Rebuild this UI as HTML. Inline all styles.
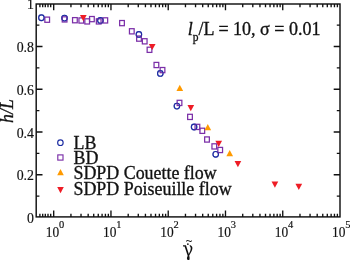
<!DOCTYPE html>
<html lang="en"><head><meta charset="utf-8"><title>h/L vs shear rate</title>
<style>
html,body{margin:0;padding:0;background:#fff;}
body{width:350px;height:260px;overflow:hidden;}
svg{display:block;will-change:transform;opacity:0.999;}
text{font-family:"Liberation Serif","DejaVu Serif",serif;fill:#111;stroke:#111;stroke-width:0.32px;}
.it{font-style:italic;}
.tk text,text.tk{stroke-width:0.18px;}
</style></head><body>
<svg width="350" height="260" viewBox="0 0 350 260">
<path d="M53.70 216.90L53.70 210.60M53.70 4.00L53.70 10.30M70.94 216.90L70.94 213.70M70.94 4.00L70.94 7.20M81.02 216.90L81.02 213.70M81.02 4.00L81.02 7.20M88.17 216.90L88.17 213.70M88.17 4.00L88.17 7.20M93.72 216.90L93.72 213.70M93.72 4.00L93.72 7.20M98.26 216.90L98.26 213.70M98.26 4.00L98.26 7.20M102.09 216.90L102.09 213.70M102.09 4.00L102.09 7.20M105.41 216.90L105.41 213.70M105.41 4.00L105.41 7.20M108.34 216.90L108.34 213.70M108.34 4.00L108.34 7.20M110.96 216.90L110.96 210.60M110.96 4.00L110.96 10.30M128.20 216.90L128.20 213.70M128.20 4.00L128.20 7.20M138.28 216.90L138.28 213.70M138.28 4.00L138.28 7.20M145.43 216.90L145.43 213.70M145.43 4.00L145.43 7.20M150.98 216.90L150.98 213.70M150.98 4.00L150.98 7.20M155.52 216.90L155.52 213.70M155.52 4.00L155.52 7.20M159.35 216.90L159.35 213.70M159.35 4.00L159.35 7.20M162.67 216.90L162.67 213.70M162.67 4.00L162.67 7.20M165.60 216.90L165.60 213.70M165.60 4.00L165.60 7.20M168.22 216.90L168.22 210.60M168.22 4.00L168.22 10.30M185.46 216.90L185.46 213.70M185.46 4.00L185.46 7.20M195.54 216.90L195.54 213.70M195.54 4.00L195.54 7.20M202.69 216.90L202.69 213.70M202.69 4.00L202.69 7.20M208.24 216.90L208.24 213.70M208.24 4.00L208.24 7.20M212.78 216.90L212.78 213.70M212.78 4.00L212.78 7.20M216.61 216.90L216.61 213.70M216.61 4.00L216.61 7.20M219.93 216.90L219.93 213.70M219.93 4.00L219.93 7.20M222.86 216.90L222.86 213.70M222.86 4.00L222.86 7.20M225.48 216.90L225.48 210.60M225.48 4.00L225.48 10.30M242.72 216.90L242.72 213.70M242.72 4.00L242.72 7.20M252.80 216.90L252.80 213.70M252.80 4.00L252.80 7.20M259.95 216.90L259.95 213.70M259.95 4.00L259.95 7.20M265.50 216.90L265.50 213.70M265.50 4.00L265.50 7.20M270.04 216.90L270.04 213.70M270.04 4.00L270.04 7.20M273.87 216.90L273.87 213.70M273.87 4.00L273.87 7.20M277.19 216.90L277.19 213.70M277.19 4.00L277.19 7.20M280.12 216.90L280.12 213.70M280.12 4.00L280.12 7.20M282.74 216.90L282.74 210.60M282.74 4.00L282.74 10.30M299.98 216.90L299.98 213.70M299.98 4.00L299.98 7.20M310.06 216.90L310.06 213.70M310.06 4.00L310.06 7.20M317.21 216.90L317.21 213.70M317.21 4.00L317.21 7.20M322.76 216.90L322.76 213.70M322.76 4.00L322.76 7.20M327.30 216.90L327.30 213.70M327.30 4.00L327.30 7.20M331.13 216.90L331.13 213.70M331.13 4.00L331.13 7.20M334.45 216.90L334.45 213.70M334.45 4.00L334.45 7.20M337.38 216.90L337.38 213.70M337.38 4.00L337.38 7.20M39.90 216.90L39.90 213.70M39.90 4.00L39.90 7.20M42.70 216.90L42.70 213.70M42.70 4.00L42.70 7.20M45.30 216.90L45.30 213.70M45.30 4.00L45.30 7.20M48.00 216.90L48.00 213.70M48.00 4.00L48.00 7.20M50.70 216.90L50.70 213.70M50.70 4.00L50.70 7.20M36.20 196.13L39.40 196.13M340.00 196.13L336.80 196.13M36.20 174.76L42.50 174.76M340.00 174.76L333.70 174.76M36.20 153.39L39.40 153.39M340.00 153.39L336.80 153.39M36.20 132.02L42.50 132.02M340.00 132.02L333.70 132.02M36.20 110.65L39.40 110.65M340.00 110.65L336.80 110.65M36.20 89.28L42.50 89.28M340.00 89.28L333.70 89.28M36.20 67.91L39.40 67.91M340.00 67.91L336.80 67.91M36.20 46.54L42.50 46.54M340.00 46.54L333.70 46.54M36.20 25.17L39.40 25.17M340.00 25.17L336.80 25.17" stroke="#111" stroke-width="1.35" fill="none"/>
<rect x="36.20" y="4.00" width="303.80" height="212.90" fill="none" stroke="#111" stroke-width="1.45"/>
<ellipse cx="41.40" cy="17.70" rx="2.75" ry="2.85" fill="none" stroke="#1c2ca2" stroke-width="1.15"/>
<ellipse cx="64.50" cy="18.10" rx="2.75" ry="2.85" fill="none" stroke="#1c2ca2" stroke-width="1.15"/>
<ellipse cx="100.40" cy="20.40" rx="2.75" ry="2.85" fill="none" stroke="#1c2ca2" stroke-width="1.15"/>
<ellipse cx="138.90" cy="34.40" rx="2.75" ry="2.85" fill="none" stroke="#1c2ca2" stroke-width="1.15"/>
<ellipse cx="160.30" cy="73.40" rx="2.75" ry="2.85" fill="none" stroke="#1c2ca2" stroke-width="1.15"/>
<ellipse cx="176.90" cy="106.10" rx="2.75" ry="2.85" fill="none" stroke="#1c2ca2" stroke-width="1.15"/>
<ellipse cx="194.10" cy="127.00" rx="2.75" ry="2.85" fill="none" stroke="#1c2ca2" stroke-width="1.15"/>
<ellipse cx="215.70" cy="154.30" rx="2.75" ry="2.85" fill="none" stroke="#1c2ca2" stroke-width="1.15"/>
<rect x="44.85" y="17.10" width="4.70" height="5.20" fill="none" stroke="#7b2fa8" stroke-width="1.25"/>
<rect x="62.25" y="16.80" width="4.70" height="5.20" fill="none" stroke="#7b2fa8" stroke-width="1.25"/>
<rect x="72.55" y="17.60" width="4.70" height="5.20" fill="none" stroke="#7b2fa8" stroke-width="1.25"/>
<rect x="78.95" y="17.90" width="4.70" height="5.20" fill="none" stroke="#7b2fa8" stroke-width="1.25"/>
<rect x="84.85" y="18.80" width="4.70" height="5.20" fill="none" stroke="#7b2fa8" stroke-width="1.25"/>
<rect x="89.55" y="16.50" width="4.70" height="5.20" fill="none" stroke="#7b2fa8" stroke-width="1.25"/>
<rect x="96.35" y="18.80" width="4.70" height="5.20" fill="none" stroke="#7b2fa8" stroke-width="1.25"/>
<rect x="102.95" y="17.80" width="4.70" height="5.20" fill="none" stroke="#7b2fa8" stroke-width="1.25"/>
<rect x="119.65" y="20.50" width="4.70" height="5.20" fill="none" stroke="#7b2fa8" stroke-width="1.25"/>
<rect x="129.45" y="28.70" width="4.70" height="5.20" fill="none" stroke="#7b2fa8" stroke-width="1.25"/>
<rect x="136.65" y="36.00" width="4.70" height="5.20" fill="none" stroke="#7b2fa8" stroke-width="1.25"/>
<rect x="142.35" y="38.70" width="4.70" height="5.20" fill="none" stroke="#7b2fa8" stroke-width="1.25"/>
<rect x="147.15" y="47.20" width="4.70" height="5.20" fill="none" stroke="#7b2fa8" stroke-width="1.25"/>
<rect x="154.05" y="62.40" width="4.70" height="5.20" fill="none" stroke="#7b2fa8" stroke-width="1.25"/>
<rect x="160.15" y="67.50" width="4.70" height="5.20" fill="none" stroke="#7b2fa8" stroke-width="1.25"/>
<rect x="177.15" y="100.30" width="4.70" height="5.20" fill="none" stroke="#7b2fa8" stroke-width="1.25"/>
<rect x="187.65" y="114.30" width="4.70" height="5.20" fill="none" stroke="#7b2fa8" stroke-width="1.25"/>
<rect x="195.05" y="124.30" width="4.70" height="5.20" fill="none" stroke="#7b2fa8" stroke-width="1.25"/>
<rect x="199.95" y="128.20" width="4.70" height="5.20" fill="none" stroke="#7b2fa8" stroke-width="1.25"/>
<rect x="204.65" y="136.90" width="4.70" height="5.20" fill="none" stroke="#7b2fa8" stroke-width="1.25"/>
<rect x="211.95" y="143.80" width="4.70" height="5.20" fill="none" stroke="#7b2fa8" stroke-width="1.25"/>
<rect x="217.85" y="147.40" width="4.70" height="5.20" fill="none" stroke="#7b2fa8" stroke-width="1.25"/>
<g opacity="0.5">
<ellipse cx="41.40" cy="17.70" rx="2.75" ry="2.85" fill="none" stroke="#1c2ca2" stroke-width="1.15"/>
<ellipse cx="64.50" cy="18.10" rx="2.75" ry="2.85" fill="none" stroke="#1c2ca2" stroke-width="1.15"/>
<ellipse cx="100.40" cy="20.40" rx="2.75" ry="2.85" fill="none" stroke="#1c2ca2" stroke-width="1.15"/>
<ellipse cx="138.90" cy="34.40" rx="2.75" ry="2.85" fill="none" stroke="#1c2ca2" stroke-width="1.15"/>
<ellipse cx="160.30" cy="73.40" rx="2.75" ry="2.85" fill="none" stroke="#1c2ca2" stroke-width="1.15"/>
<ellipse cx="176.90" cy="106.10" rx="2.75" ry="2.85" fill="none" stroke="#1c2ca2" stroke-width="1.15"/>
<ellipse cx="194.10" cy="127.00" rx="2.75" ry="2.85" fill="none" stroke="#1c2ca2" stroke-width="1.15"/>
<ellipse cx="215.70" cy="154.30" rx="2.75" ry="2.85" fill="none" stroke="#1c2ca2" stroke-width="1.15"/>
</g>
<path d="M176.45 90.90L183.15 90.90L179.80 84.70Z" fill="#ff9a00"/>
<path d="M204.45 130.20L211.15 130.20L207.80 124.00Z" fill="#ff9a00"/>
<path d="M226.35 156.20L233.05 156.20L229.70 150.00Z" fill="#ff9a00"/>
<path d="M79.95 15.10L86.65 15.10L83.30 21.30Z" fill="#ee1c25"/>
<path d="M148.85 43.90L155.55 43.90L152.20 50.10Z" fill="#ee1c25"/>
<path d="M187.45 105.00L194.15 105.00L190.80 111.20Z" fill="#ee1c25"/>
<path d="M215.35 140.80L222.05 140.80L218.70 147.00Z" fill="#ee1c25"/>
<path d="M234.55 161.10L241.25 161.10L237.90 167.30Z" fill="#ee1c25"/>
<path d="M271.55 181.60L278.25 181.60L274.90 187.80Z" fill="#ee1c25"/>
<path d="M295.45 183.70L302.15 183.70L298.80 189.90Z" fill="#ee1c25"/>
<ellipse cx="60.40" cy="142.70" rx="2.75" ry="2.85" fill="none" stroke="#1c2ca2" stroke-width="1.15"/>
<rect x="57.80" y="154.90" width="5.20" height="5.20" fill="none" stroke="#7b2fa8" stroke-width="1.15"/>
<path d="M57.20 175.30L63.80 175.30L60.50 169.10Z" fill="#ff9a00"/>
<path d="M57.20 187.10L63.80 187.10L60.50 193.30Z" fill="#ee1c25"/>
<text x="73.5" y="148.8" font-size="17.9">LB</text>
<text x="73.5" y="164.0" font-size="17.9">BD</text>
<text x="73.5" y="179.3" font-size="17.9">SDPD Couette flow</text>
<text x="73.5" y="194.7" font-size="17.9">SDPD Poiseuille flow</text>
<text x="187.8" y="34.5" font-size="18.0"><tspan class="it">l</tspan><tspan dy="6.4" font-size="11.5">p</tspan><tspan dy="-6.4">/L = 10, &#963; = 0.01</tspan></text>
<text class="tk" transform="translate(34.0 9.10) scale(0.900 1)" font-size="15.4" text-anchor="end">1</text>
<text class="tk" transform="translate(34.0 52.04) scale(0.900 1)" font-size="15.4" text-anchor="end">0.8</text>
<text class="tk" transform="translate(34.0 94.78) scale(0.900 1)" font-size="15.4" text-anchor="end">0.6</text>
<text class="tk" transform="translate(34.0 137.52) scale(0.900 1)" font-size="15.4" text-anchor="end">0.4</text>
<text class="tk" transform="translate(34.0 180.26) scale(0.900 1)" font-size="15.4" text-anchor="end">0.2</text>
<text class="tk" transform="translate(34.0 222.60) scale(0.900 1)" font-size="15.4" text-anchor="end">0</text>
<g class="tk" transform="translate(53.70 236.8)"><text transform="translate(-7.9 0) scale(0.87 1)" font-size="15.4">10</text><text transform="translate(5.2 -8.7) scale(0.95 1)" font-size="11">0</text></g>
<g class="tk" transform="translate(110.96 236.8)"><text transform="translate(-7.9 0) scale(0.87 1)" font-size="15.4">10</text><text transform="translate(5.2 -8.7) scale(0.95 1)" font-size="11">1</text></g>
<g class="tk" transform="translate(168.22 236.8)"><text transform="translate(-7.9 0) scale(0.87 1)" font-size="15.4">10</text><text transform="translate(5.2 -8.7) scale(0.95 1)" font-size="11">2</text></g>
<g class="tk" transform="translate(225.48 236.8)"><text transform="translate(-7.9 0) scale(0.87 1)" font-size="15.4">10</text><text transform="translate(5.2 -8.7) scale(0.95 1)" font-size="11">3</text></g>
<g class="tk" transform="translate(282.74 236.8)"><text transform="translate(-7.9 0) scale(0.87 1)" font-size="15.4">10</text><text transform="translate(5.2 -8.7) scale(0.95 1)" font-size="11">4</text></g>
<g class="tk" transform="translate(340.00 236.8)"><text transform="translate(-7.9 0) scale(0.87 1)" font-size="15.4">10</text><text transform="translate(5.2 -8.7) scale(0.95 1)" font-size="11">5</text></g>
<text class="it" transform="translate(12.7 122.9) rotate(-90)" font-size="17.8">h/L</text>
<text transform="translate(183.5 256.3) skewX(13) scale(0.88 1)" font-size="20.6" style="font-family:'DejaVu Serif','Liberation Serif',serif;font-style:italic;stroke-width:0">&#947;</text>
<text x="185.9" y="245.2" font-size="15" style="stroke-width:0">.</text>
<text x="184.9" y="244.3" font-size="9.6" style="font-family:'DejaVu Serif','Liberation Serif',serif;stroke-width:0">~</text>
</svg></body></html>
